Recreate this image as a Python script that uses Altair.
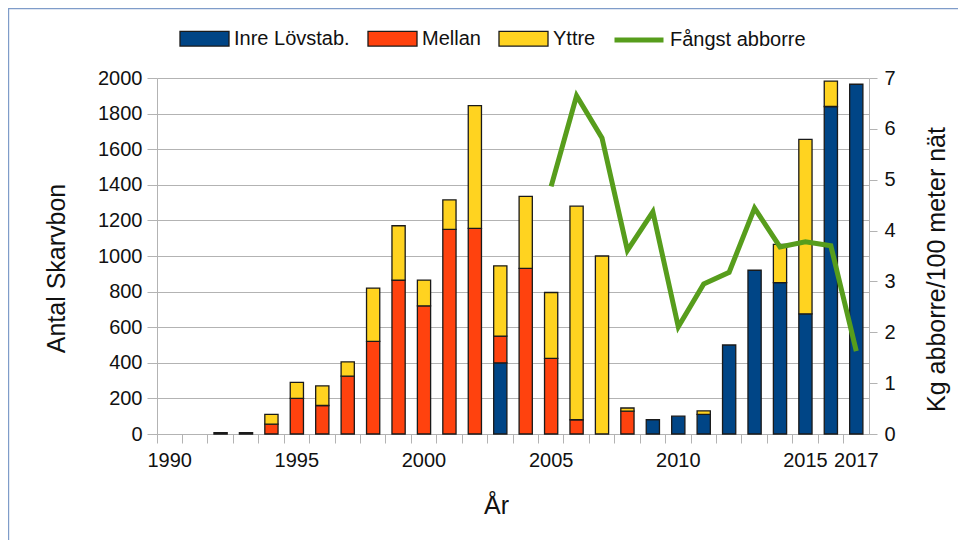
import altair as alt
import pandas as pd

# ---- data ----
years = ["1990", "1991", "1992", "1993", "1994", "1995", "1996", "1997", "1998", "1999",
         "2000", "2001", "2002", "2003", "2004", "2005", "2006", "2007", "2008", "2009",
         "2010", "2011", "2012", "2013", "2014", "2015", "2016", "2017"]
inre = [0, 0, 0, 0, 0, 0, 0, 0, 0, 0, 0, 0, 0, 400, 0, 0, 0, 0, 0, 80, 100, 110, 500, 920, 850, 675, 1840, 1965]
mellan = [0, 0, 8, 8, 55, 200, 160, 325, 520, 865, 720, 1150, 1155, 150, 930, 425, 80, 0, 128, 0, 0, 0, 0, 0, 0, 0, 0, 0]
yttre = [0, 0, 0, 0, 55, 90, 110, 80, 300, 305, 145, 165, 690, 395, 405, 370, 1200, 1000, 18, 0, 0, 20, 0, 0, 215, 980, 143, 0]

kg_years = ["2005", "2006", "2007", "2008", "2009", "2010", "2011", "2012", "2013", "2014", "2015", "2016", "2017"]
kg = [4.87, 6.65, 5.82, 3.61, 4.37, 2.11, 2.95, 3.18, 4.44, 3.68, 3.78, 3.70, 1.63]

zones = ["Inre Lövstab.", "Mellan", "Yttre"]
zone_colors = ["#004586", "#ff420e", "#ffd320"]
line_name = "Fångst abborre"
line_color = "#579d1c"
x_labels = ["1990", "1995", "2000", "2005", "2010", "2015", "2017"]

rows = []
for zi, (zname, series) in enumerate(zip(zones, [inre, mellan, yttre])):
    for yr, v in zip(years, series):
        if v > 0:
            rows.append({"År": yr, "Zon": zname, "Antal": v, "ordning": zi})
bars_df = pd.DataFrame(rows)
line_df = pd.DataFrame({"År": kg_years, "Kg": kg, "Serie": line_name})

FONT = "Liberation Sans"
GRID = "#b3b3b3"
W, H = 712, 356
PAD_L, PAD_T = 149, 70
PAD_R, PAD_B = 966 - 16 - W - PAD_L, 548 - 16 - H - PAD_T

label_expr = "indexof(" + str(x_labels) + ", datum.label) >= 0 ? datum.label : ''"

x_enc = alt.X(
    "År:O",
    scale=alt.Scale(domain=years, paddingInner=0, paddingOuter=0),
    axis=alt.Axis(
        title="År", bandPosition=0, labelExpr=label_expr,
        labelAngle=0, tickSize=9, labelPadding=7, tickColor=GRID, domainColor=GRID,
        labelFontSize=20, labelFont=FONT, labelColor="#111",
        titleFontSize=25, titleFont=FONT, titleFontWeight="normal", titleColor="#111",
        titleX=339, titleY=79, titleBaseline="alphabetic", titleAlign="center",
        grid=False, labelOverlap=False,
    ),
)

bars = alt.Chart(bars_df).mark_bar(
    width=alt.RelativeBandSize(0.52), stroke="#1a1a1a", strokeWidth=1.3
).encode(
    x=x_enc,
    y=alt.Y(
        "Antal:Q", stack="zero",
        scale=alt.Scale(domain=[0, 2000], nice=False),
        axis=alt.Axis(
            values=list(range(0, 2001, 200)), format="d", title="Antal Skarvbon",
            grid=True, gridColor=GRID, gridWidth=1, tickColor=GRID, domainColor=GRID,
            tickSize=10, labelPadding=5, labelFontSize=20, labelFont=FONT, labelColor="#111",
            titleFontSize=25, titleFont=FONT, titleFontWeight="normal", titleColor="#111",
            titleAngle=270, titleX=-93, titleY=190, titleBaseline="alphabetic", titleAlign="center",
        ),
    ),
    fill=alt.Fill(
        "Zon:N",
        scale=alt.Scale(domain=zones, range=zone_colors),
        legend=alt.Legend(
            orient="none", legendX=22, legendY=-65, direction="horizontal", title=None,
            symbolType="M-1,-0.3H1V0.3H-1Z", symbolSize=2401,
            symbolStrokeColor="#1a1a1a", symbolStrokeWidth=1.3, symbolOpacity=1,
            labelFontSize=20, labelFont=FONT, labelColor="#111", labelOffset=4, columnPadding=15,
        ),
    ),
    order=alt.Order("ordning:Q"),
)

line = alt.Chart(line_df).mark_line(strokeWidth=5, strokeJoin="miter").encode(
    x=alt.X("År:O"),
    y=alt.Y(
        "Kg:Q",
        scale=alt.Scale(domain=[0, 7], nice=False),
        axis=alt.Axis(
            orient="right", values=list(range(0, 8)), format="d", title="Kg abborre/100 meter nät",
            grid=False, tickColor=GRID, domainColor=GRID, tickSize=8, labelPadding=7,
            labelFontSize=20, labelFont=FONT, labelColor="#111",
            titleFontSize=25, titleFont=FONT, titleFontWeight="normal", titleColor="#111",
            titleAngle=270, titleX=75, titleY=191, titleBaseline="alphabetic", titleAlign="center",
        ),
    ),
    stroke=alt.Stroke(
        "Serie:N",
        scale=alt.Scale(domain=[line_name], range=[line_color]),
        legend=alt.Legend(
            orient="none", legendX=455, legendY=-65, direction="horizontal", title=None,
            symbolType="stroke", symbolSize=2401, symbolStrokeWidth=5,
            labelFontSize=20, labelFont=FONT, labelColor="#111", labelOffset=4,
        ),
    ),
)

frame_data = alt.Data(values=[{"k": 1}])
frame_top = alt.Chart(frame_data).mark_rule(color="#7f9cc9", strokeWidth=2.4).encode(
    x=alt.value(-PAD_L), x2=alt.value(W + PAD_R), y=alt.value(-PAD_T)
)
frame_left = alt.Chart(frame_data).mark_rule(color="#7f9cc9", strokeWidth=2.4).encode(
    x=alt.value(-PAD_L), y=alt.value(-PAD_T), y2=alt.value(H + PAD_B)
)

chart = (
    alt.layer(bars, line, frame_top, frame_left)
    .resolve_scale(y="independent")
    .properties(
        width=W, height=H,
        autosize=alt.AutoSizeParams(type="none"),
        padding={"left": PAD_L, "top": PAD_T, "right": PAD_R, "bottom": PAD_B},
        background="white",
    )
    .configure_view(stroke=None)
)

chart.save("out.html", embed_options={"renderer": "svg", "actions": False})
